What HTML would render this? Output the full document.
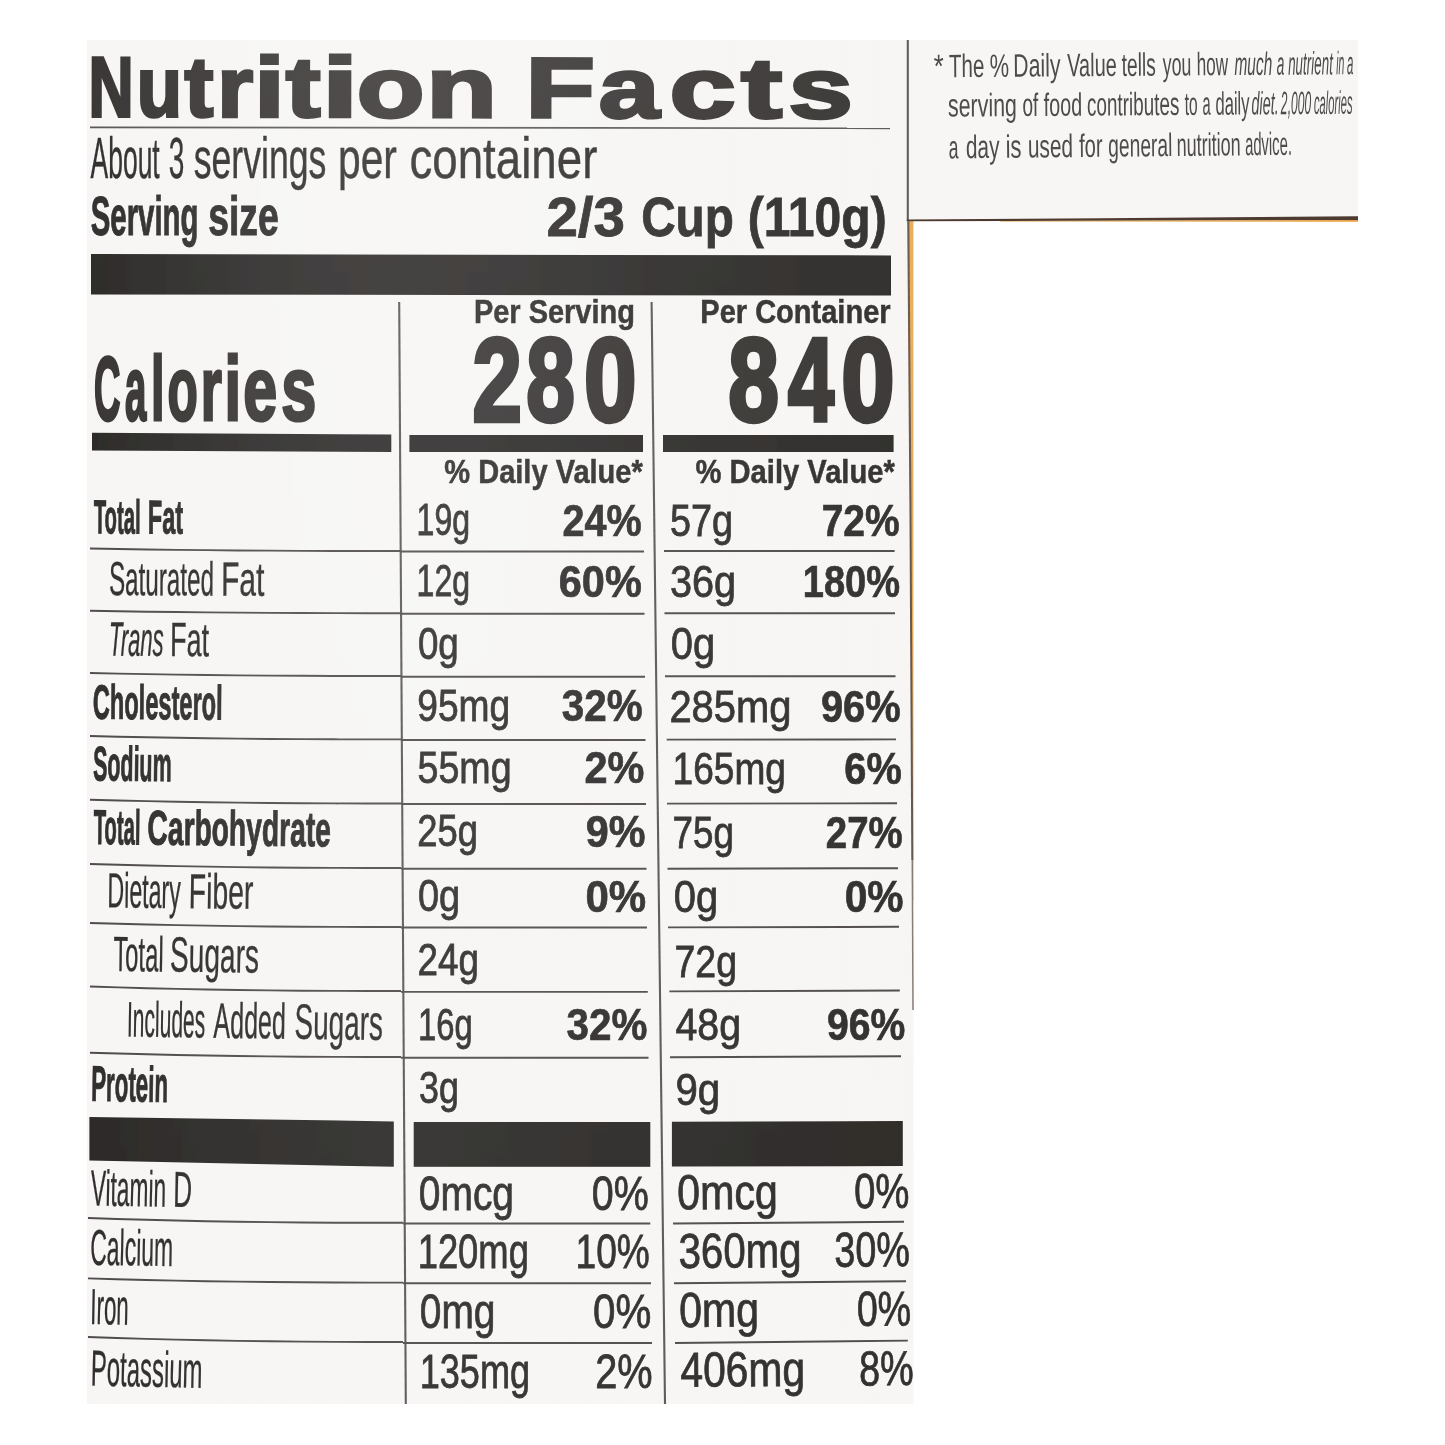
<!DOCTYPE html>
<html lang="en"><head><meta charset="utf-8"><title>Nutrition Facts</title>
<style>
html,body{margin:0;padding:0;background:#fff;}
body{width:1445px;height:1445px;overflow:hidden;}
svg{display:block;font-family:"Liberation Sans",Arial,Helvetica,sans-serif;fill:#2f2c2c;}
</style></head><body>
<svg width="1445" height="1445" viewBox="0 0 1445 1445" role="img" aria-label="Nutrition Facts label">
<defs><filter id="soft" x="0" y="0" width="1445" height="1445" filterUnits="userSpaceOnUse"><feGaussianBlur stdDeviation="0.7"/></filter>
<linearGradient id="glx" gradientUnits="userSpaceOnUse" x1="87" y1="0" x2="914" y2="0">
<stop offset="0" stop-color="#fff" stop-opacity="0.02"/><stop offset="0.08" stop-color="#fff" stop-opacity="0.055"/><stop offset="0.17" stop-color="#fff" stop-opacity="0.092"/><stop offset="0.26" stop-color="#fff" stop-opacity="0.12"/>
<stop offset="0.34" stop-color="#fff" stop-opacity="0.136"/><stop offset="0.42" stop-color="#fff" stop-opacity="0.138"/><stop offset="0.52" stop-color="#fff" stop-opacity="0.122"/><stop offset="0.64" stop-color="#fff" stop-opacity="0.098"/><stop offset="0.78" stop-color="#fff" stop-opacity="0.073"/><stop offset="0.9" stop-color="#fff" stop-opacity="0.055"/><stop offset="1" stop-color="#fff" stop-opacity="0.045"/>
</linearGradient>
<linearGradient id="gly" gradientUnits="userSpaceOnUse" x1="0" y1="40" x2="0" y2="1404">
<stop offset="0" stop-color="#fff"/><stop offset="0.34" stop-color="#d8d8d8"/><stop offset="1" stop-color="#6e6e6e"/>
</linearGradient>
<mask id="glm" maskUnits="userSpaceOnUse" x="0" y="0" width="1445" height="1445"><rect x="87" y="40" width="827" height="1364" fill="url(#gly)"/></mask>
</defs>
<g filter="url(#soft)">
<polygon points="87.00,40.00 1358.00,40.00 1358.00,221.80 913.40,221.30 913.40,1404.00 87.00,1404.00" fill="#f7f6f4"/>
<polygon points="907.60,221.00 913.40,221.00 913.40,900.00 912.40,900.00 910.30,500.00" fill="#e8ad55"/>
<line x1="907.80" y1="40.00" x2="907.80" y2="221.00" stroke="#5a5558" stroke-width="2.10"/>
<polygon points="906.80,219.60 1358.00,216.20 1358.00,219.90 906.80,221.30" fill="#4d3a30"/>
<polygon points="1000.00,221.00 1358.00,219.90 1358.00,221.80 1000.00,221.50" fill="#e8a040"/>
<line x1="908.30" y1="221.00" x2="910.40" y2="500.00" stroke="#6b5648" stroke-width="2.10"/>
<line x1="910.40" y1="500.00" x2="912.30" y2="860.00" stroke="#62534b" stroke-width="2.00"/>
<line x1="912.30" y1="860.00" x2="913.00" y2="1010.00" stroke="#857a74" stroke-width="1.50"/>
<text y="116.40" font-size="85.30" font-weight="bold" transform="rotate(0.120 91.30 116.40)" stroke="#373332" stroke-width="3.00" stroke-linejoin="miter" fill="#373332" aria-label="Nutrition Facts"><tspan x="88.59" textLength="44.99" lengthAdjust="spacingAndGlyphs">N</tspan><tspan x="136.78" textLength="45.20" lengthAdjust="spacingAndGlyphs">u</tspan><tspan x="184.42" textLength="28.81" lengthAdjust="spacingAndGlyphs">t</tspan><tspan x="217.22" textLength="35.78" lengthAdjust="spacingAndGlyphs">r</tspan><tspan x="254.26" textLength="30.31" lengthAdjust="spacingAndGlyphs">i</tspan><tspan x="285.80" textLength="34.76" lengthAdjust="spacingAndGlyphs">t</tspan><tspan x="322.09" textLength="36.17" lengthAdjust="spacingAndGlyphs">i</tspan><tspan x="356.77" textLength="67.68" lengthAdjust="spacingAndGlyphs">o</tspan><tspan x="426.38" textLength="70.66" lengthAdjust="spacingAndGlyphs">n</tspan> <tspan x="525.44" textLength="69.33" lengthAdjust="spacingAndGlyphs">F</tspan><tspan x="598.73" textLength="60.68" lengthAdjust="spacingAndGlyphs">a</tspan><tspan x="669.54" textLength="66.17" lengthAdjust="spacingAndGlyphs">c</tspan><tspan x="740.96" textLength="41.15" lengthAdjust="spacingAndGlyphs">t</tspan><tspan x="788.45" textLength="64.31" lengthAdjust="spacingAndGlyphs">s</tspan></text>
<line x1="90.00" y1="127.30" x2="890.00" y2="128.30" stroke="#5a5556" stroke-width="1.70"/>
<text y="177.50" font-size="56.70" stroke="#2f2c2c" stroke-width="0.40" stroke-linejoin="miter"><tspan x="90.53" textLength="69.19" lengthAdjust="spacingAndGlyphs">About</tspan> <tspan x="168.75" textLength="15.57" lengthAdjust="spacingAndGlyphs">3</tspan> <tspan x="193.72" textLength="132.67" lengthAdjust="spacingAndGlyphs">servings</tspan> <tspan x="338.05" textLength="58.87" lengthAdjust="spacingAndGlyphs">per</tspan> <tspan x="409.46" textLength="187.89" lengthAdjust="spacingAndGlyphs">container</tspan></text>
<text y="234.70" font-size="56.00" font-weight="bold" stroke="#2f2c2c" stroke-width="1.00" stroke-linejoin="miter"><tspan x="90.72" textLength="107.71" lengthAdjust="spacingAndGlyphs">Serving</tspan> <tspan x="208.19" textLength="70.53" lengthAdjust="spacingAndGlyphs">size</tspan></text>
<text y="236.00" font-size="55.00" font-weight="bold" stroke="#2f2c2c" stroke-width="0.80" stroke-linejoin="miter"><tspan x="546.42" textLength="78.67" lengthAdjust="spacingAndGlyphs">2/3</tspan> <tspan x="641.19" textLength="92.68" lengthAdjust="spacingAndGlyphs">Cup</tspan> <tspan x="747.69" textLength="139.02" lengthAdjust="spacingAndGlyphs">(110g)</tspan></text>
<polygon points="91.00,254.00 891.00,255.40 891.00,295.50 91.00,294.50" fill="#2b2827"/>
<line x1="399.20" y1="302.00" x2="405.80" y2="1404.00" stroke="#5a5556" stroke-width="2.10"/>
<line x1="651.60" y1="302.00" x2="665.00" y2="1404.00" stroke="#5a5556" stroke-width="2.10"/>
<text y="420.40" font-size="91.00" font-weight="bold" stroke="#373332" stroke-width="3.00" stroke-linejoin="miter" fill="#373332" aria-label="Calories"><tspan x="94.03" textLength="26.46" lengthAdjust="spacingAndGlyphs">C</tspan><tspan x="124.95" textLength="21.31" lengthAdjust="spacingAndGlyphs">a</tspan><tspan x="151.09" textLength="13.54" lengthAdjust="spacingAndGlyphs">l</tspan><tspan x="167.62" textLength="30.28" lengthAdjust="spacingAndGlyphs">o</tspan><tspan x="200.78" textLength="21.09" lengthAdjust="spacingAndGlyphs">r</tspan><tspan x="224.43" textLength="16.57" lengthAdjust="spacingAndGlyphs">i</tspan><tspan x="243.26" textLength="33.89" lengthAdjust="spacingAndGlyphs">e</tspan><tspan x="281.29" textLength="35.11" lengthAdjust="spacingAndGlyphs">s</tspan></text>
<text y="323.30" font-size="32.70" font-weight="bold" stroke="#2f2c2c" stroke-width="0.50" stroke-linejoin="miter"><tspan x="473.89" textLength="161.06" lengthAdjust="spacingAndGlyphs">Per Serving</tspan></text>
<text y="323.30" font-size="32.70" font-weight="bold" stroke="#2f2c2c" stroke-width="0.50" stroke-linejoin="miter"><tspan x="700.29" textLength="190.29" lengthAdjust="spacingAndGlyphs">Per Container</tspan></text>
<text y="420.80" font-size="118.00" font-weight="bold" stroke="#373332" stroke-width="4.40" stroke-linejoin="miter" fill="#373332" aria-label="280"><tspan x="472.59" textLength="49.45" lengthAdjust="spacingAndGlyphs">2</tspan><tspan x="526.36" textLength="48.56" lengthAdjust="spacingAndGlyphs">8</tspan><tspan x="584.02" textLength="52.57" lengthAdjust="spacingAndGlyphs">0</tspan></text>
<text y="420.80" font-size="118.00" font-weight="bold" stroke="#373332" stroke-width="4.40" stroke-linejoin="miter" fill="#373332" aria-label="840"><tspan x="728.24" textLength="50.70" lengthAdjust="spacingAndGlyphs">8</tspan><tspan x="787.96" textLength="45.95" lengthAdjust="spacingAndGlyphs">4</tspan><tspan x="841.36" textLength="53.39" lengthAdjust="spacingAndGlyphs">0</tspan></text>
<polygon points="92.00,432.70 391.30,434.50 391.30,452.00 92.00,450.50" fill="#2b2827"/>
<rect x="409.40" y="435.00" width="233.60" height="17.00" fill="#2b2827"/>
<rect x="663.00" y="435.00" width="230.60" height="17.00" fill="#2b2827"/>
<text y="483.00" font-size="32.70" font-weight="bold" stroke="#2f2c2c" stroke-width="0.50" stroke-linejoin="miter"><tspan x="444.32" textLength="198.49" lengthAdjust="spacingAndGlyphs">% Daily Value*</tspan></text>
<text y="483.00" font-size="32.70" font-weight="bold" stroke="#2f2c2c" stroke-width="0.50" stroke-linejoin="miter"><tspan x="695.52" textLength="199.29" lengthAdjust="spacingAndGlyphs">% Daily Value*</tspan></text>
<text y="533.30" font-size="47.50" font-weight="bold" transform="rotate(0.200 93.40 533.30)" stroke="#2f2c2c" stroke-width="1.00" stroke-linejoin="miter"><tspan x="93.70" textLength="46.81" lengthAdjust="spacingAndGlyphs">Total</tspan> <tspan x="147.82" textLength="35.18" lengthAdjust="spacingAndGlyphs">Fat</tspan></text>
<text y="535.30" font-size="45.00" stroke="#2f2c2c" stroke-width="0.80" stroke-linejoin="miter"><tspan x="416.59" textLength="53.55" lengthAdjust="spacingAndGlyphs">19g</tspan></text>
<text y="535.80" font-size="45.00" font-weight="bold" stroke="#2f2c2c" stroke-width="0.70" stroke-linejoin="miter"><tspan x="562.57" textLength="79.13" lengthAdjust="spacingAndGlyphs">24%</tspan></text>
<text y="535.50" font-size="45.00" stroke="#2f2c2c" stroke-width="0.80" stroke-linejoin="miter"><tspan x="669.89" textLength="63.12" lengthAdjust="spacingAndGlyphs">57g</tspan></text>
<text y="535.50" font-size="45.00" font-weight="bold" stroke="#2f2c2c" stroke-width="0.70" stroke-linejoin="miter"><tspan x="821.69" textLength="77.99" lengthAdjust="spacingAndGlyphs">72%</tspan></text>
<text y="595.00" font-size="47.79" transform="rotate(0.273 109.80 595.00)" stroke="#2f2c2c" stroke-width="0.35" stroke-linejoin="miter"><tspan x="108.89" textLength="104.99" lengthAdjust="spacingAndGlyphs">Saturated</tspan> <tspan x="220.89" textLength="43.45" lengthAdjust="spacingAndGlyphs">Fat</tspan></text>
<text y="596.30" font-size="45.00" stroke="#2f2c2c" stroke-width="0.80" stroke-linejoin="miter"><tspan x="416.59" textLength="53.55" lengthAdjust="spacingAndGlyphs">12g</tspan></text>
<text y="596.80" font-size="45.00" font-weight="bold" stroke="#2f2c2c" stroke-width="0.70" stroke-linejoin="miter"><tspan x="558.80" textLength="82.95" lengthAdjust="spacingAndGlyphs">60%</tspan></text>
<text y="597.00" font-size="45.00" stroke="#2f2c2c" stroke-width="0.80" stroke-linejoin="miter"><tspan x="669.91" textLength="66.21" lengthAdjust="spacingAndGlyphs">36g</tspan></text>
<text y="597.00" font-size="45.00" font-weight="bold" stroke="#2f2c2c" stroke-width="0.70" stroke-linejoin="miter"><tspan x="802.77" textLength="97.23" lengthAdjust="spacingAndGlyphs">180%</tspan></text>
<text y="655.60" font-size="48.07" transform="rotate(0.344 110.60 655.60)" stroke="#2f2c2c" stroke-width="0.35" stroke-linejoin="miter"><tspan x="108.79" textLength="54.87" lengthAdjust="spacingAndGlyphs" font-style="italic">Trans</tspan> <tspan x="170.05" textLength="38.97" lengthAdjust="spacingAndGlyphs" font-style="normal">Fat</tspan></text>
<text y="658.50" font-size="45.00" stroke="#2f2c2c" stroke-width="0.80" stroke-linejoin="miter"><tspan x="417.93" textLength="40.85" lengthAdjust="spacingAndGlyphs">0g</tspan></text>
<text y="658.60" font-size="45.00" stroke="#2f2c2c" stroke-width="0.80" stroke-linejoin="miter"><tspan x="670.80" textLength="44.38" lengthAdjust="spacingAndGlyphs">0g</tspan></text>
<text y="718.70" font-size="48.37" font-weight="bold" transform="rotate(0.418 93.10 718.70)" stroke="#2f2c2c" stroke-width="1.00" stroke-linejoin="miter"><tspan x="92.66" textLength="129.93" lengthAdjust="spacingAndGlyphs">Cholesterol</tspan></text>
<text y="720.90" font-size="45.00" stroke="#2f2c2c" stroke-width="0.80" stroke-linejoin="miter"><tspan x="417.23" textLength="93.05" lengthAdjust="spacingAndGlyphs">95mg</tspan></text>
<text y="721.40" font-size="45.00" font-weight="bold" stroke="#2f2c2c" stroke-width="0.70" stroke-linejoin="miter"><tspan x="561.84" textLength="80.88" lengthAdjust="spacingAndGlyphs">32%</tspan></text>
<text y="722.20" font-size="45.00" stroke="#2f2c2c" stroke-width="0.80" stroke-linejoin="miter"><tspan x="669.40" textLength="122.20" lengthAdjust="spacingAndGlyphs">285mg</tspan></text>
<text y="722.20" font-size="45.00" font-weight="bold" stroke="#2f2c2c" stroke-width="0.70" stroke-linejoin="miter"><tspan x="820.96" textLength="79.75" lengthAdjust="spacingAndGlyphs">96%</tspan></text>
<text y="780.50" font-size="48.65" font-weight="bold" transform="rotate(0.490 93.10 780.50)" stroke="#2f2c2c" stroke-width="1.00" stroke-linejoin="miter"><tspan x="92.96" textLength="78.56" lengthAdjust="spacingAndGlyphs">Sodium</tspan></text>
<text y="782.80" font-size="45.00" stroke="#2f2c2c" stroke-width="0.80" stroke-linejoin="miter"><tspan x="417.50" textLength="94.11" lengthAdjust="spacingAndGlyphs">55mg</tspan></text>
<text y="783.30" font-size="45.00" font-weight="bold" stroke="#2f2c2c" stroke-width="0.70" stroke-linejoin="miter"><tspan x="584.50" textLength="59.90" lengthAdjust="spacingAndGlyphs">2%</tspan></text>
<text y="783.50" font-size="45.00" stroke="#2f2c2c" stroke-width="0.80" stroke-linejoin="miter"><tspan x="672.62" textLength="113.30" lengthAdjust="spacingAndGlyphs">165mg</tspan></text>
<text y="783.50" font-size="45.00" font-weight="bold" stroke="#2f2c2c" stroke-width="0.70" stroke-linejoin="miter"><tspan x="844.36" textLength="57.40" lengthAdjust="spacingAndGlyphs">6%</tspan></text>
<text y="844.00" font-size="48.95" font-weight="bold" transform="rotate(0.565 93.10 844.00)" stroke="#2f2c2c" stroke-width="1.00" stroke-linejoin="miter"><tspan x="93.40" textLength="47.02" lengthAdjust="spacingAndGlyphs">Total</tspan> <tspan x="147.37" textLength="183.39" lengthAdjust="spacingAndGlyphs">Carbohydrate</tspan></text>
<text y="846.30" font-size="45.00" stroke="#2f2c2c" stroke-width="0.80" stroke-linejoin="miter"><tspan x="417.18" textLength="60.73" lengthAdjust="spacingAndGlyphs">25g</tspan></text>
<text y="846.80" font-size="45.00" font-weight="bold" stroke="#2f2c2c" stroke-width="0.70" stroke-linejoin="miter"><tspan x="585.70" textLength="59.70" lengthAdjust="spacingAndGlyphs">9%</tspan></text>
<text y="848.20" font-size="45.00" stroke="#2f2c2c" stroke-width="0.80" stroke-linejoin="miter"><tspan x="672.56" textLength="61.38" lengthAdjust="spacingAndGlyphs">75g</tspan></text>
<text y="848.20" font-size="45.00" font-weight="bold" stroke="#2f2c2c" stroke-width="0.70" stroke-linejoin="miter"><tspan x="825.81" textLength="76.86" lengthAdjust="spacingAndGlyphs">27%</tspan></text>
<text y="907.30" font-size="49.25" transform="rotate(0.639 109.00 907.30)" stroke="#2f2c2c" stroke-width="0.35" stroke-linejoin="miter"><tspan x="107.26" textLength="73.42" lengthAdjust="spacingAndGlyphs">Dietary</tspan> <tspan x="188.63" textLength="64.64" lengthAdjust="spacingAndGlyphs">Fiber</tspan></text>
<text y="911.10" font-size="45.00" stroke="#2f2c2c" stroke-width="0.80" stroke-linejoin="miter"><tspan x="417.88" textLength="42.18" lengthAdjust="spacingAndGlyphs">0g</tspan></text>
<text y="911.60" font-size="45.00" font-weight="bold" stroke="#2f2c2c" stroke-width="0.70" stroke-linejoin="miter"><tspan x="585.47" textLength="60.75" lengthAdjust="spacingAndGlyphs">0%</tspan></text>
<text y="911.80" font-size="45.00" stroke="#2f2c2c" stroke-width="0.80" stroke-linejoin="miter"><tspan x="673.80" textLength="44.38" lengthAdjust="spacingAndGlyphs">0g</tspan></text>
<text y="911.80" font-size="45.00" font-weight="bold" stroke="#2f2c2c" stroke-width="0.70" stroke-linejoin="miter"><tspan x="844.72" textLength="58.86" lengthAdjust="spacingAndGlyphs">0%</tspan></text>
<text y="970.90" font-size="49.54" transform="rotate(0.714 113.60 970.90)" stroke="#2f2c2c" stroke-width="0.35" stroke-linejoin="miter"><tspan x="113.24" textLength="50.19" lengthAdjust="spacingAndGlyphs">Total</tspan> <tspan x="169.81" textLength="89.03" lengthAdjust="spacingAndGlyphs">Sugars</tspan></text>
<text y="975.10" font-size="45.00" stroke="#2f2c2c" stroke-width="0.80" stroke-linejoin="miter"><tspan x="417.56" textLength="61.38" lengthAdjust="spacingAndGlyphs">24g</tspan></text>
<text y="976.60" font-size="45.00" stroke="#2f2c2c" stroke-width="0.80" stroke-linejoin="miter"><tspan x="674.53" textLength="62.45" lengthAdjust="spacingAndGlyphs">72g</tspan></text>
<text y="1036.50" font-size="49.85" transform="rotate(0.791 128.50 1036.50)" stroke="#2f2c2c" stroke-width="0.35" stroke-linejoin="miter"><tspan x="126.73" textLength="78.33" lengthAdjust="spacingAndGlyphs">Includes</tspan> <tspan x="213.31" textLength="72.32" lengthAdjust="spacingAndGlyphs">Added</tspan> <tspan x="294.32" textLength="88.51" lengthAdjust="spacingAndGlyphs">Sugars</tspan></text>
<text y="1039.50" font-size="45.00" stroke="#2f2c2c" stroke-width="0.80" stroke-linejoin="miter"><tspan x="417.94" textLength="54.74" lengthAdjust="spacingAndGlyphs">16g</tspan></text>
<text y="1040.00" font-size="45.00" font-weight="bold" stroke="#2f2c2c" stroke-width="0.70" stroke-linejoin="miter"><tspan x="566.44" textLength="80.88" lengthAdjust="spacingAndGlyphs">32%</tspan></text>
<text y="1040.20" font-size="45.00" stroke="#2f2c2c" stroke-width="0.80" stroke-linejoin="miter"><tspan x="675.52" textLength="65.58" lengthAdjust="spacingAndGlyphs">48g</tspan></text>
<text y="1040.20" font-size="45.00" font-weight="bold" stroke="#2f2c2c" stroke-width="0.70" stroke-linejoin="miter"><tspan x="826.98" textLength="78.31" lengthAdjust="spacingAndGlyphs">96%</tspan></text>
<text y="1100.80" font-size="50.15" font-weight="bold" transform="rotate(0.866 92.00 1100.80)" stroke="#2f2c2c" stroke-width="1.00" stroke-linejoin="miter"><tspan x="90.99" textLength="76.84" lengthAdjust="spacingAndGlyphs">Protein</tspan></text>
<text y="1103.20" font-size="45.00" stroke="#2f2c2c" stroke-width="0.80" stroke-linejoin="miter"><tspan x="419.06" textLength="39.87" lengthAdjust="spacingAndGlyphs">3g</tspan></text>
<text y="1105.20" font-size="45.00" stroke="#2f2c2c" stroke-width="0.80" stroke-linejoin="miter"><tspan x="675.49" textLength="44.72" lengthAdjust="spacingAndGlyphs">9g</tspan></text>
<polyline points="90.0,548.50 118.3,549.00 147.2,549.44 176.8,549.83 206.9,550.16 237.7,550.44 269.1,550.66 301.2,550.83 333.8,550.94 367.1,551.00 401.0,551.00" fill="none" stroke="#4f4a4b" stroke-width="1.90" stroke-linejoin="round"/>
<line x1="401.00" y1="551.50" x2="644.00" y2="551.50" stroke="#4f4a4b" stroke-width="1.90"/>
<line x1="664.00" y1="551.00" x2="894.60" y2="551.00" stroke="#4f4a4b" stroke-width="1.90"/>
<polyline points="90.0,610.80 118.3,611.28 147.2,611.70 176.8,612.07 206.9,612.39 237.7,612.66 269.1,612.87 301.2,613.03 333.8,613.14 367.1,613.20 401.0,613.20" fill="none" stroke="#4f4a4b" stroke-width="1.90" stroke-linejoin="round"/>
<line x1="401.00" y1="613.80" x2="644.50" y2="613.80" stroke="#4f4a4b" stroke-width="1.90"/>
<line x1="664.50" y1="613.30" x2="895.00" y2="613.30" stroke="#4f4a4b" stroke-width="1.90"/>
<polyline points="90.0,673.00 118.3,673.60 147.2,674.13 176.8,674.59 206.9,674.99 237.7,675.33 269.1,675.59 301.2,675.79 333.8,675.93 367.1,676.00 401.0,676.00" fill="none" stroke="#4f4a4b" stroke-width="1.90" stroke-linejoin="round"/>
<line x1="401.00" y1="676.80" x2="645.00" y2="676.80" stroke="#4f4a4b" stroke-width="1.90"/>
<line x1="665.00" y1="676.30" x2="895.50" y2="676.30" stroke="#4f4a4b" stroke-width="1.90"/>
<polyline points="90.0,736.00 118.3,736.68 147.2,737.28 176.8,737.81 206.9,738.26 237.7,738.63 269.1,738.94 301.2,739.17 333.8,739.32 367.1,739.40 401.0,739.40" fill="none" stroke="#4f4a4b" stroke-width="1.90" stroke-linejoin="round"/>
<line x1="401.00" y1="740.00" x2="645.50" y2="740.00" stroke="#4f4a4b" stroke-width="1.90"/>
<line x1="666.70" y1="739.60" x2="896.00" y2="739.40" stroke="#4f4a4b" stroke-width="1.90"/>
<polyline points="90.0,799.70 118.3,800.46 147.2,801.13 176.8,801.72 206.9,802.22 237.7,802.64 269.1,802.98 301.2,803.24 333.8,803.41 367.1,803.50 401.0,803.50" fill="none" stroke="#4f4a4b" stroke-width="1.90" stroke-linejoin="round"/>
<line x1="401.00" y1="804.00" x2="646.00" y2="804.00" stroke="#4f4a4b" stroke-width="1.90"/>
<line x1="667.00" y1="803.60" x2="897.00" y2="803.30" stroke="#4f4a4b" stroke-width="1.90"/>
<polyline points="90.0,864.00 118.3,864.80 147.2,865.50 176.8,866.12 206.9,866.66 237.7,867.10 269.1,867.46 301.2,867.72 333.8,867.90 367.1,868.00 401.0,868.00" fill="none" stroke="#4f4a4b" stroke-width="1.90" stroke-linejoin="round"/>
<line x1="401.00" y1="868.70" x2="646.50" y2="868.70" stroke="#4f4a4b" stroke-width="1.90"/>
<line x1="667.50" y1="868.70" x2="898.00" y2="868.20" stroke="#4f4a4b" stroke-width="1.90"/>
<polyline points="90.0,923.00 118.3,923.80 147.2,924.50 176.8,925.12 206.9,925.66 237.7,926.10 269.1,926.46 301.2,926.72 333.8,926.90 367.1,927.00 401.0,927.00" fill="none" stroke="#4f4a4b" stroke-width="1.90" stroke-linejoin="round"/>
<line x1="401.00" y1="927.50" x2="647.00" y2="927.50" stroke="#4f4a4b" stroke-width="1.90"/>
<line x1="668.00" y1="927.40" x2="899.00" y2="926.80" stroke="#4f4a4b" stroke-width="1.90"/>
<polyline points="90.0,986.50 118.3,987.40 147.2,988.19 176.8,988.89 206.9,989.49 237.7,989.99 269.1,990.39 301.2,990.69 333.8,990.89 367.1,991.00 401.0,991.00" fill="none" stroke="#4f4a4b" stroke-width="1.90" stroke-linejoin="round"/>
<line x1="401.00" y1="991.90" x2="647.80" y2="991.90" stroke="#4f4a4b" stroke-width="1.90"/>
<line x1="669.40" y1="991.40" x2="899.80" y2="990.50" stroke="#4f4a4b" stroke-width="1.90"/>
<polyline points="90.0,1052.70 118.3,1053.56 147.2,1054.32 176.8,1054.98 206.9,1055.56 237.7,1056.03 269.1,1056.42 301.2,1056.70 333.8,1056.90 367.1,1057.00 401.0,1057.00" fill="none" stroke="#4f4a4b" stroke-width="1.90" stroke-linejoin="round"/>
<line x1="401.00" y1="1057.70" x2="648.50" y2="1057.70" stroke="#4f4a4b" stroke-width="1.90"/>
<line x1="670.00" y1="1057.30" x2="901.00" y2="1056.30" stroke="#4f4a4b" stroke-width="1.90"/>
<polygon points="89.40,1117.00 393.80,1121.40 393.80,1166.80 89.40,1160.50" fill="#2b2827"/>
<rect x="413.70" y="1122.00" width="236.60" height="44.80" fill="#2b2827"/>
<polygon points="671.90,1121.80 902.80,1121.00 902.80,1166.00 671.90,1166.60" fill="#2b2827"/>
<text y="1205.40" font-size="50.50" transform="rotate(0.989 90.40 1205.40)" stroke="#2f2c2c" stroke-width="0.35" stroke-linejoin="miter"><tspan x="90.46" textLength="75.42" lengthAdjust="spacingAndGlyphs">Vitamin</tspan> <tspan x="173.02" textLength="18.83" lengthAdjust="spacingAndGlyphs">D</tspan></text>
<text y="1209.50" font-size="49.00" stroke="#2f2c2c" stroke-width="0.80" stroke-linejoin="miter"><tspan x="418.84" textLength="95.20" lengthAdjust="spacingAndGlyphs">0mcg</tspan></text>
<text y="1209.50" font-size="49.00" stroke="#2f2c2c" stroke-width="0.80" stroke-linejoin="miter"><tspan x="591.82" textLength="56.97" lengthAdjust="spacingAndGlyphs">0%</tspan></text>
<text y="1209.30" font-size="49.00" transform="rotate(-0.400 678.60 1209.30)" stroke="#2f2c2c" stroke-width="0.80" stroke-linejoin="miter"><tspan x="677.35" textLength="100.63" lengthAdjust="spacingAndGlyphs">0mcg</tspan></text>
<text y="1208.10" font-size="49.00" transform="rotate(-0.400 855.50 1208.10)" stroke="#2f2c2c" stroke-width="0.80" stroke-linejoin="miter"><tspan x="854.37" textLength="55.18" lengthAdjust="spacingAndGlyphs">0%</tspan></text>
<text y="1264.70" font-size="50.50" transform="rotate(1.059 91.00 1264.70)" stroke="#2f2c2c" stroke-width="0.35" stroke-linejoin="miter"><tspan x="90.03" textLength="82.88" lengthAdjust="spacingAndGlyphs">Calcium</tspan></text>
<text y="1268.40" font-size="49.00" stroke="#2f2c2c" stroke-width="0.80" stroke-linejoin="miter"><tspan x="417.67" textLength="111.21" lengthAdjust="spacingAndGlyphs">120mg</tspan></text>
<text y="1268.40" font-size="49.00" stroke="#2f2c2c" stroke-width="0.80" stroke-linejoin="miter"><tspan x="575.62" textLength="74.24" lengthAdjust="spacingAndGlyphs">10%</tspan></text>
<text y="1267.90" font-size="49.00" transform="rotate(-0.400 679.90 1267.90)" stroke="#2f2c2c" stroke-width="0.80" stroke-linejoin="miter"><tspan x="678.79" textLength="122.72" lengthAdjust="spacingAndGlyphs">360mg</tspan></text>
<text y="1266.70" font-size="49.00" transform="rotate(-0.400 835.60 1266.70)" stroke="#2f2c2c" stroke-width="0.80" stroke-linejoin="miter"><tspan x="834.59" textLength="75.29" lengthAdjust="spacingAndGlyphs">30%</tspan></text>
<text y="1324.00" font-size="50.50" transform="rotate(1.128 92.00 1324.00)" stroke="#2f2c2c" stroke-width="0.35" stroke-linejoin="miter"><tspan x="90.11" textLength="38.42" lengthAdjust="spacingAndGlyphs">Iron</tspan></text>
<text y="1328.00" font-size="49.00" stroke="#2f2c2c" stroke-width="0.80" stroke-linejoin="miter"><tspan x="419.85" textLength="75.60" lengthAdjust="spacingAndGlyphs">0mg</tspan></text>
<text y="1328.00" font-size="49.00" stroke="#2f2c2c" stroke-width="0.80" stroke-linejoin="miter"><tspan x="593.09" textLength="58.24" lengthAdjust="spacingAndGlyphs">0%</tspan></text>
<text y="1327.00" font-size="49.00" transform="rotate(-0.400 680.50 1327.00)" stroke="#2f2c2c" stroke-width="0.80" stroke-linejoin="miter"><tspan x="679.26" textLength="79.93" lengthAdjust="spacingAndGlyphs">0mg</tspan></text>
<text y="1325.80" font-size="49.00" transform="rotate(-0.400 858.00 1325.80)" stroke="#2f2c2c" stroke-width="0.80" stroke-linejoin="miter"><tspan x="856.90" textLength="54.33" lengthAdjust="spacingAndGlyphs">0%</tspan></text>
<text y="1385.50" font-size="50.50" transform="rotate(1.201 92.40 1385.50)" stroke="#2f2c2c" stroke-width="0.35" stroke-linejoin="miter"><tspan x="90.60" textLength="111.60" lengthAdjust="spacingAndGlyphs">Potassium</tspan></text>
<text y="1387.50" font-size="49.00" stroke="#2f2c2c" stroke-width="0.80" stroke-linejoin="miter"><tspan x="419.69" textLength="110.47" lengthAdjust="spacingAndGlyphs">135mg</tspan></text>
<text y="1387.50" font-size="49.00" stroke="#2f2c2c" stroke-width="0.80" stroke-linejoin="miter"><tspan x="595.21" textLength="57.39" lengthAdjust="spacingAndGlyphs">2%</tspan></text>
<text y="1386.70" font-size="49.00" transform="rotate(-0.400 681.00 1386.70)" stroke="#2f2c2c" stroke-width="0.80" stroke-linejoin="miter"><tspan x="680.48" textLength="124.67" lengthAdjust="spacingAndGlyphs">406mg</tspan></text>
<text y="1385.50" font-size="49.00" transform="rotate(-0.400 860.50 1385.50)" stroke="#2f2c2c" stroke-width="0.80" stroke-linejoin="miter"><tspan x="859.30" textLength="54.43" lengthAdjust="spacingAndGlyphs">8%</tspan></text>
<polyline points="88.0,1218.00 116.7,1218.96 146.0,1219.80 175.9,1220.55 206.4,1221.19 237.6,1221.72 269.4,1222.15 301.9,1222.47 335.0,1222.68 368.7,1222.80 403.0,1222.80" fill="none" stroke="#4f4a4b" stroke-width="1.90" stroke-linejoin="round"/>
<line x1="403.00" y1="1223.50" x2="650.30" y2="1223.50" stroke="#4f4a4b" stroke-width="1.90"/>
<line x1="673.00" y1="1223.50" x2="904.00" y2="1221.80" stroke="#4f4a4b" stroke-width="1.90"/>
<polyline points="88.0,1278.40 116.7,1279.24 146.0,1279.98 175.9,1280.63 206.4,1281.19 237.6,1281.65 269.4,1282.03 301.9,1282.31 335.0,1282.50 368.7,1282.60 403.0,1282.60" fill="none" stroke="#4f4a4b" stroke-width="1.90" stroke-linejoin="round"/>
<line x1="403.00" y1="1283.30" x2="651.00" y2="1283.30" stroke="#4f4a4b" stroke-width="1.90"/>
<line x1="674.00" y1="1283.30" x2="906.00" y2="1281.30" stroke="#4f4a4b" stroke-width="1.90"/>
<polyline points="88.0,1337.00 116.7,1338.00 146.0,1338.88 175.9,1339.65 206.4,1340.32 237.6,1340.88 269.4,1341.32 301.9,1341.65 335.0,1341.88 368.7,1341.99 403.0,1342.00" fill="none" stroke="#4f4a4b" stroke-width="1.90" stroke-linejoin="round"/>
<line x1="403.00" y1="1343.00" x2="652.00" y2="1343.00" stroke="#4f4a4b" stroke-width="1.90"/>
<line x1="675.00" y1="1343.00" x2="907.80" y2="1340.60" stroke="#4f4a4b" stroke-width="1.90"/>
<text y="77.30" font-size="32.50" transform="rotate(-0.420 934.10 77.30)" fill="#504b4c"><tspan x="933.65" textLength="10.09" lengthAdjust="spacingAndGlyphs">*</tspan> <tspan x="948.94" textLength="35.56" lengthAdjust="spacingAndGlyphs">The</tspan> <tspan x="989.74" textLength="19.41" lengthAdjust="spacingAndGlyphs">%</tspan> <tspan x="1013.35" textLength="47.21" lengthAdjust="spacingAndGlyphs">Daily</tspan> <tspan x="1067.30" textLength="49.57" lengthAdjust="spacingAndGlyphs">Value</tspan> <tspan x="1121.71" textLength="34.18" lengthAdjust="spacingAndGlyphs">tells</tspan> <tspan x="1162.76" textLength="28.64" lengthAdjust="spacingAndGlyphs">you</tspan> <tspan x="1196.70" textLength="31.55" lengthAdjust="spacingAndGlyphs">how</tspan> <tspan x="1234.43" textLength="37.98" lengthAdjust="spacingAndGlyphs" font-style="italic">much</tspan> <tspan x="1276.69" textLength="7.68" lengthAdjust="spacingAndGlyphs" font-style="italic">a</tspan> <tspan x="1288.17" textLength="44.77" lengthAdjust="spacingAndGlyphs" font-style="italic">nutrient</tspan> <tspan x="1336.24" textLength="8.24" lengthAdjust="spacingAndGlyphs" font-style="italic">in</tspan> <tspan x="1347.14" textLength="6.45" lengthAdjust="spacingAndGlyphs" font-style="italic">a</tspan></text>
<text y="116.60" font-size="32.50" transform="rotate(-0.400 948.60 116.60)" fill="#504b4c"><tspan x="948.01" textLength="68.95" lengthAdjust="spacingAndGlyphs">serving</tspan> <tspan x="1022.38" textLength="16.00" lengthAdjust="spacingAndGlyphs">of</tspan> <tspan x="1043.80" textLength="38.56" lengthAdjust="spacingAndGlyphs">food</tspan> <tspan x="1087.10" textLength="92.35" lengthAdjust="spacingAndGlyphs">contributes</tspan> <tspan x="1184.66" textLength="13.09" lengthAdjust="spacingAndGlyphs">to</tspan> <tspan x="1202.57" textLength="8.21" lengthAdjust="spacingAndGlyphs">a</tspan> <tspan x="1215.39" textLength="34.24" lengthAdjust="spacingAndGlyphs">daily</tspan> <tspan x="1251.43" textLength="27.35" lengthAdjust="spacingAndGlyphs" font-style="italic">diet.</tspan> <tspan x="1280.86" textLength="30.53" lengthAdjust="spacingAndGlyphs" font-style="italic">2,000</tspan> <tspan x="1313.94" textLength="38.70" lengthAdjust="spacingAndGlyphs" font-style="italic">calories</tspan></text>
<text y="158.40" font-size="32.50" transform="rotate(-0.600 949.40 158.40)" fill="#504b4c"><tspan x="948.65" textLength="9.83" lengthAdjust="spacingAndGlyphs">a</tspan> <tspan x="966.01" textLength="33.64" lengthAdjust="spacingAndGlyphs">day</tspan> <tspan x="1005.71" textLength="15.96" lengthAdjust="spacingAndGlyphs">is</tspan> <tspan x="1027.94" textLength="45.28" lengthAdjust="spacingAndGlyphs">used</tspan> <tspan x="1079.20" textLength="23.49" lengthAdjust="spacingAndGlyphs">for</tspan> <tspan x="1108.38" textLength="64.09" lengthAdjust="spacingAndGlyphs">general</tspan> <tspan x="1176.89" textLength="63.94" lengthAdjust="spacingAndGlyphs">nutrition</tspan> <tspan x="1245.17" textLength="46.88" lengthAdjust="spacingAndGlyphs">advice.</tspan></text>
<rect x="87" y="40" width="826.4" height="1364" fill="url(#glx)" mask="url(#glm)"/>
</g>
</svg>
</body></html>
